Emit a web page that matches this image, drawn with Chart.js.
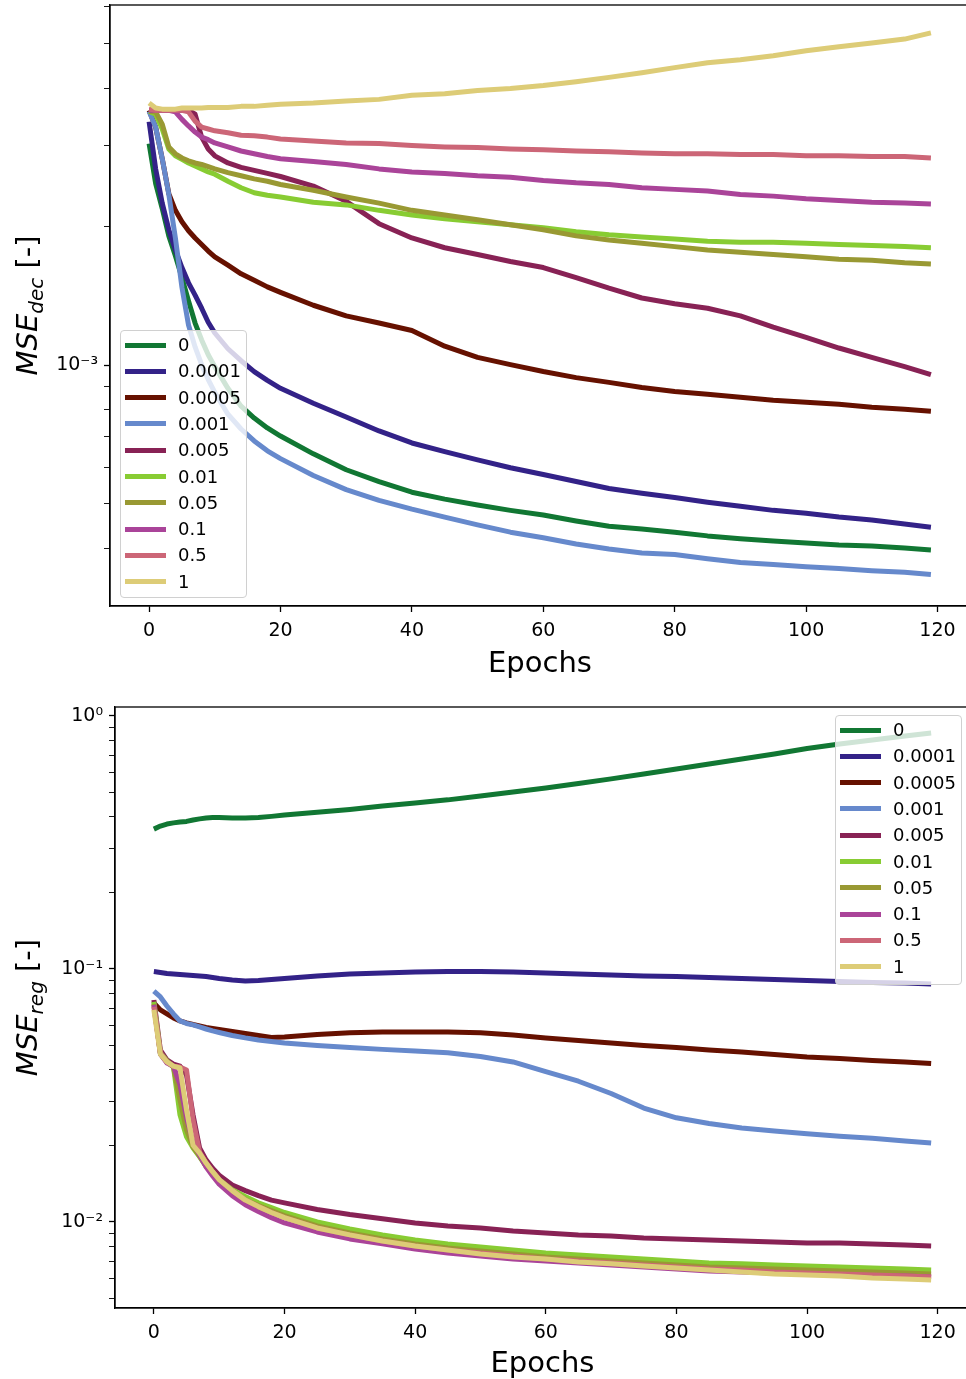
<!DOCTYPE html>
<html>
<head>
<meta charset="utf-8">
<script src="https://cdn.jsdelivr.net/npm/chart.js@4.4.1/dist/chart.umd.min.js"></script>
<style>
  html, body { margin: 0; padding: 0; background: #fff; width: 966px; height: 1379px; overflow: hidden; }
  .panel { position: absolute; left: 0; }
  canvas { display: block; }
  .legend { position: absolute; box-sizing: border-box; background: rgba(255,255,255,0.8);
            border: 1px solid #d0d0d0; border-radius: 4px; font-family: "DejaVu Sans"; font-size: 18px; color: #000; }
  .legend .sw { position: absolute; left: 4px; width: 41px; height: 5px; }
  .legend .lb { position: absolute; left: 57px; line-height: 20px; white-space: nowrap; }
</style>
</head>
<body>
<div class="panel" style="top:0"><canvas id="decChart" width="980" height="690"></canvas></div>
<div class="panel" style="top:690px"><canvas id="regChart" width="980" height="692"></canvas></div>
<div class="legend" id="decLegend" style="left:120px;top:330px;width:127px;height:268px"></div>
<div class="legend" id="regLegend" style="left:835px;top:715px;width:127px;height:270px"></div>
<script>
const epochs = [0,1,2,3,4,5,6,7,8,9,10,12,14,16,18,20,25,30,35,40,45,50,55,60,65,70,75,80,85,90,95,100,105,110,115,119];
const lambdaLabels = ['0','0.0001','0.0005','0.001','0.005','0.01','0.05','0.1','0.5','1'];
const xTicks = [0,20,40,60,80,100,120];

// MSE_dec (top panel)
const dec0   = [3.03e-3,2.48e-3,2.19e-3,1.91e-3,1.73e-3,1.55e-3,1.38e-3,1.235e-3,1.135e-3,1.054e-3,0.993e-3, 0.891e-3,0.815e-3,0.768e-3,0.731e-3,0.702e-3, 0.642e-3,0.593e-3,0.559e-3,0.530e-3,0.512e-3,0.497e-3,0.484e-3,0.473e-3,0.459e-3,0.447e-3,0.441e-3,0.434e-3,0.426e-3,0.420e-3,0.415e-3,0.411e-3,0.407e-3,0.405e-3,0.401e-3,0.397e-3];
const dec1e4 = [3.38e-3,2.67e-3,2.25e-3,1.97e-3,1.78e-3,1.63e-3,1.51e-3,1.42e-3,1.33e-3,1.24e-3,1.175e-3, 1.086e-3,1.023e-3,0.969e-3,0.927e-3,0.891e-3, 0.827e-3,0.772e-3,0.720e-3,0.678e-3,0.649e-3,0.623e-3,0.599e-3,0.579e-3,0.559e-3,0.540e-3,0.527e-3,0.516e-3,0.504e-3,0.494e-3,0.484e-3,0.477e-3,0.468e-3,0.461e-3,0.452e-3,0.445e-3];
const dec5e4 = [3.58e-3,3.29e-3,2.81e-3,2.36e-3,2.17e-3,2.05e-3,1.96e-3,1.89e-3,1.83e-3,1.77e-3,1.72e-3, 1.65e-3,1.58e-3,1.53e-3,1.48e-3,1.44e-3, 1.35e-3,1.28e-3,1.235e-3,1.19e-3,1.10e-3,1.04e-3,1.003e-3,0.969e-3,0.940e-3,0.918e-3,0.895e-3,0.877e-3,0.865e-3,0.852e-3,0.839e-3,0.831e-3,0.823e-3,0.811e-3,0.803e-3,0.795e-3];
const dec1e3 = [3.56e-3,3.29e-3,2.81e-3,2.35e-3,1.89e-3,1.476e-3,1.223e-3,1.096e-3,1.003e-3,0.931e-3,0.873e-3, 0.783e-3,0.727e-3,0.685e-3,0.652e-3,0.627e-3, 0.576e-3,0.537e-3,0.509e-3,0.487e-3,0.468e-3,0.450e-3,0.434e-3,0.422e-3,0.409e-3,0.399e-3,0.391e-3,0.388e-3,0.380e-3,0.373e-3,0.369e-3,0.365e-3,0.362e-3,0.358e-3,0.355e-3,0.351e-3];
const dec5e3 = [3.58e-3,3.58e-3,3.58e-3,3.58e-3,3.58e-3,3.58e-3,3.58e-3,3.51e-3,3.13e-3,2.95e-3,2.85e-3, 2.75e-3,2.69e-3,2.65e-3,2.61e-3,2.57e-3, 2.45e-3,2.27e-3,2.03e-3,1.89e-3,1.80e-3,1.74e-3,1.68e-3,1.63e-3,1.55e-3,1.47e-3,1.40e-3,1.36e-3,1.33e-3,1.28e-3,1.21e-3,1.15e-3,1.09e-3,1.04e-3,0.993e-3,0.954e-3];
const dec1e2 = [3.56e-3,3.51e-3,3.26e-3,2.95e-3,2.85e-3,2.80e-3,2.75e-3,2.71e-3,2.67e-3,2.63e-3,2.60e-3, 2.51e-3,2.43e-3,2.37e-3,2.34e-3,2.32e-3, 2.26e-3,2.23e-3,2.17e-3,2.12e-3,2.08e-3,2.05e-3,2.02e-3,1.99e-3,1.95e-3,1.92e-3,1.90e-3,1.88e-3,1.86e-3,1.85e-3,1.85e-3,1.84e-3,1.83e-3,1.82e-3,1.81e-3,1.80e-3];
const dec5e2 = [3.56e-3,3.55e-3,3.34e-3,2.98e-3,2.88e-3,2.82e-3,2.78e-3,2.75e-3,2.73e-3,2.70e-3,2.67e-3, 2.62e-3,2.58e-3,2.54e-3,2.51e-3,2.47e-3, 2.40e-3,2.32e-3,2.25e-3,2.17e-3,2.12e-3,2.07e-3,2.02e-3,1.97e-3,1.91e-3,1.87e-3,1.84e-3,1.81e-3,1.78e-3,1.76e-3,1.74e-3,1.72e-3,1.70e-3,1.69e-3,1.67e-3,1.66e-3];
const dec1e1 = [3.58e-3,3.58e-3,3.58e-3,3.58e-3,3.55e-3,3.42e-3,3.31e-3,3.21e-3,3.13e-3,3.09e-3,3.04e-3, 2.98e-3,2.92e-3,2.88e-3,2.84e-3,2.81e-3, 2.77e-3,2.73e-3,2.67e-3,2.63e-3,2.61e-3,2.58e-3,2.56e-3,2.52e-3,2.49e-3,2.47e-3,2.43e-3,2.41e-3,2.39e-3,2.35e-3,2.33e-3,2.30e-3,2.28e-3,2.26e-3,2.25e-3,2.24e-3];
const dec5e1 = [3.60e-3,3.58e-3,3.58e-3,3.58e-3,3.58e-3,3.58e-3,3.55e-3,3.39e-3,3.29e-3,3.26e-3,3.23e-3, 3.20e-3,3.16e-3,3.15e-3,3.13e-3,3.10e-3, 3.07e-3,3.04e-3,3.03e-3,3.00e-3,2.98e-3,2.97e-3,2.95e-3,2.94e-3,2.92e-3,2.91e-3,2.89e-3,2.88e-3,2.88e-3,2.87e-3,2.87e-3,2.85e-3,2.85e-3,2.84e-3,2.84e-3,2.82e-3];
const dec1   = [3.71e-3,3.62e-3,3.60e-3,3.60e-3,3.60e-3,3.62e-3,3.62e-3,3.62e-3,3.62e-3,3.63e-3,3.63e-3, 3.63e-3,3.65e-3,3.65e-3,3.67e-3,3.69e-3, 3.71e-3,3.75e-3,3.78e-3,3.86e-3,3.89e-3,3.95e-3,3.99e-3,4.05e-3,4.13e-3,4.22e-3,4.32e-3,4.43e-3,4.54e-3,4.61e-3,4.70e-3,4.82e-3,4.92e-3,5.01e-3,5.11e-3,5.27e-3];

// MSE_reg (bottom panel)
const reg0   = [0.357,0.367,0.374,0.378,0.381,0.383,0.388,0.392,0.395,0.397,0.397, 0.395,0.395,0.397,0.401,0.406, 0.416,0.427,0.441,0.453,0.466,0.483,0.501,0.519,0.541,0.564,0.590,0.617,0.646,0.676,0.708,0.744,0.775,0.804,0.834,0.857];
const reg1e4 = [0.0977,0.0969,0.0960,0.0955,0.0951,0.0947,0.0943,0.0938,0.0934,0.0926,0.0917, 0.0905,0.0897,0.0901,0.0909,0.0917, 0.0938,0.0955,0.0964,0.0973,0.0977,0.0977,0.0973,0.0964,0.0955,0.0947,0.0938,0.0934,0.0926,0.0917,0.0909,0.0901,0.0893,0.0884,0.0880,0.0873];
const reg5e4 = [0.0734,0.0689,0.0664,0.0640,0.0623,0.0612,0.0603,0.0595,0.0587,0.0582,0.0577, 0.0566,0.0556,0.0546,0.0536,0.0538, 0.0551,0.0559,0.0564,0.0564,0.0564,0.0559,0.0548,0.0534,0.0522,0.0510,0.0498,0.0489,0.0478,0.0470,0.0459,0.0449,0.0443,0.0435,0.0429,0.0423];
const reg1e3 = [0.0818,0.0775,0.0714,0.0664,0.0623,0.0609,0.0601,0.0590,0.0579,0.0569,0.0561, 0.0546,0.0534,0.0524,0.0517,0.0510, 0.0498,0.0489,0.0481,0.0474,0.0466,0.0451,0.0429,0.0393,0.0360,0.0322,0.0282,0.0258,0.0245,0.0235,0.0229,0.0223,0.0218,0.0214,0.0209,0.0205];
const reg5e3 = [0.0754,0.0478,0.0437,0.0421,0.0413,0.0381,0.0265,0.0196,0.0176,0.0163,0.0153, 0.0140,0.0133,0.0127,0.0122,0.0119, 0.0112,0.0107,0.0103,0.00991,0.00964,0.00947,0.00921,0.00905,0.00889,0.00881,0.00865,0.00857,0.00849,0.00841,0.00834,0.00826,0.00826,0.00819,0.00811,0.00804];
const reg1e2 = [0.0741,0.0466,0.0433,0.0410,0.0265,0.0217,0.0196,0.0181,0.0166,0.0156,0.0147, 0.0134,0.0126,0.0119,0.0114,0.0109, 0.0100,0.00938,0.00889,0.00849,0.00819,0.00796,0.00775,0.00754,0.00741,0.00727,0.00714,0.00701,0.00689,0.00683,0.00676,0.00670,0.00664,0.00658,0.00652,0.00646];
const reg5e2 = [0.0727,0.0461,0.0429,0.0410,0.0304,0.0231,0.0198,0.0182,0.0166,0.0155,0.0145, 0.0131,0.0122,0.0116,0.0111,0.0106, 0.00964,0.00905,0.00857,0.00819,0.00789,0.00768,0.00747,0.00727,0.00714,0.00701,0.00689,0.00676,0.00664,0.00658,0.00652,0.00646,0.00640,0.00634,0.00629,0.00623];
const reg1e1 = [0.0721,0.0461,0.0425,0.0413,0.0348,0.0258,0.0207,0.0184,0.0165,0.0152,0.0141, 0.0127,0.0117,0.0110,0.0104,0.00991, 0.00913,0.00857,0.00819,0.00782,0.00754,0.00734,0.00714,0.00701,0.00689,0.00676,0.00664,0.00652,0.00640,0.00634,0.00629,0.00623,0.00617,0.00612,0.00612,0.00606];
const reg5e1 = [0.0708,0.0466,0.0429,0.0413,0.0410,0.0399,0.0253,0.0189,0.0171,0.0158,0.0147, 0.0133,0.0122,0.0115,0.0109,0.0104, 0.00947,0.00889,0.00841,0.00804,0.00775,0.00754,0.00734,0.00714,0.00701,0.00689,0.00676,0.00664,0.00652,0.00646,0.00634,0.00629,0.00623,0.00617,0.00612,0.00606];
const reg1   = [0.0689,0.0461,0.0429,0.0413,0.0406,0.0277,0.0201,0.0187,0.0171,0.0158,0.0147, 0.0133,0.0122,0.0115,0.0109,0.0104, 0.00947,0.00889,0.00841,0.00804,0.00775,0.00747,0.00727,0.00714,0.00695,0.00683,0.00670,0.00658,0.00646,0.00634,0.00623,0.00617,0.00612,0.00601,0.00595,0.00590];

const decSeries = [dec0, dec1e4, dec5e4, dec1e3, dec5e3, dec1e2, dec5e2, dec1e1, dec5e1, dec1];
const regSeries = [reg0, reg1e4, reg5e4, reg1e3, reg5e3, reg1e2, reg5e2, reg1e1, reg5e1, reg1];
const lineColors = ['#117733','#332288','#661100','#6689CC','#882255','#88CC33','#999933','#AA4499','#CC6677','#DDCC77'];

Chart.defaults.font.family = '"DejaVu Sans"';
Chart.defaults.color = '#000';

const sup = {'-':'\u207B','0':'\u2070','1':'\u00B9','2':'\u00B2','3':'\u00B3','4':'\u2074','5':'\u2075','6':'\u2076','7':'\u2077','8':'\u2078','9':'\u2079'};
function powLabel(v) {
  const p = Math.log10(v), r = Math.round(p);
  if (Math.abs(p - r) > 1e-6) return '';
  return '10' + String(r).split('').map(c => sup[c]).join('');
}
function logTicks(min, max) {
  const out = [];
  for (let e = Math.floor(Math.log10(min)); e <= Math.ceil(Math.log10(max)); e++)
    for (let m = 1; m < 10; m++) {
      const v = m * Math.pow(10, e);
      if (v >= min && v <= max) out.push({value: v, major: m === 1});
    }
  return out;
}

// box round the plot + y title with subscript
const framePlugin = {
  id: 'frame',
  afterDraw(chart, args, o) {
    const {ctx, chartArea: a} = chart;
    ctx.save();
    ctx.strokeStyle = '#000';
    ctx.lineWidth = 1.3;
    ctx.strokeRect(a.left, a.top, a.right - a.left, a.bottom - a.top);
    const tail = ' [-]';
    ctx.font = 'italic 29px "DejaVu Sans"'; const w1 = ctx.measureText(o.main).width;
    ctx.font = 'italic 20px "DejaVu Sans"'; const w2 = ctx.measureText(o.sub).width;
    ctx.font = '29px "DejaVu Sans"'; const w3 = ctx.measureText(tail).width;
    ctx.translate(o.x, (a.top + a.bottom) / 2);
    ctx.rotate(-Math.PI / 2);
    ctx.fillStyle = '#000';
    ctx.textBaseline = 'alphabetic';
    let x = -(w1 + w2 + w3) / 2;
    ctx.font = 'italic 29px "DejaVu Sans"'; ctx.fillText(o.main, x, 0); x += w1;
    ctx.font = 'italic 20px "DejaVu Sans"'; ctx.fillText(o.sub, x, 6); x += w2;
    ctx.font = '29px "DejaVu Sans"'; ctx.fillText(tail, x, 0);
    ctx.restore();
  }
};

function makeChart(id, series, yMin, yMax, box, sub) {
  const datasets = series.map((vals, i) => ({
    label: lambdaLabels[i],
    data: epochs.map((e, k) => ({x: e, y: vals[k]})),
    borderColor: lineColors[i],
    borderWidth: 5,
    pointRadius: 0,
    fill: false,
    tension: 0,
    borderJoinStyle: 'round',
    order: series.length - 1 - i
  }));
  return new Chart(document.getElementById(id), {
    type: 'line',
    data: {datasets},
    plugins: [framePlugin],
    options: {
      responsive: false,
      animation: false,
      devicePixelRatio: 1,
      layout: {padding: {left: 0, top: box.top, right: 10, bottom: 0}},
      plugins: {
        legend: {display: false},
        tooltip: {enabled: false},
        frame: {main: 'MSE', sub: sub, x: 37}
      },
      scales: {
        x: {
          type: 'linear', min: -5.95, max: 124.95,
          afterBuildTicks: s => { s.ticks = xTicks.map(v => ({value: v})); },
          afterFit: s => { s.height = box.xh; s.paddingLeft = 0; s.paddingRight = 0; },
          ticks: {font: {size: 19}, padding: 8, maxRotation: 0},
          grid: {drawOnChartArea: false, drawTicks: true, tickLength: 6, tickWidth: 1.3, tickColor: '#000'},
          border: {display: true, color: '#000', width: 1.3},
          title: {display: true, text: 'Epochs', font: {size: 29}, padding: {top: 0, bottom: box.tb}}
        },
        y: {
          type: 'logarithmic', min: yMin, max: yMax,
          afterBuildTicks: s => { s.ticks = logTicks(yMin, yMax); },
          afterFit: s => { s.width = box.yw; s.paddingTop = 0; s.paddingBottom = 0; },
          ticks: {font: {size: 19}, padding: 6, autoSkip: false, callback: v => powLabel(v)},
          grid: {drawOnChartArea: false, drawTicks: true, tickLength: 6,
                 tickWidth: c => (c.tick && c.tick.major ? 1.3 : 0.9), tickColor: '#000'},
          border: {display: true, color: '#000', width: 1.3}
        }
      }
    }
  });
}

makeChart('decChart', decSeries, 3.09e-4, 6.06e-3, {top: 5, xh: 84, yw: 110, tb: 8}, 'dec');
makeChart('regChart', regSeries, 4.57e-3, 1.085, {top: 17, xh: 74, yw: 115, tb: 0}, 'reg');

function buildLegend(id) {
  const el = document.getElementById(id);
  lambdaLabels.forEach((lab, i) => {
    const cy = 14 + 26.3 * i;
    const sw = document.createElement('div');
    sw.className = 'sw';
    sw.style.top = (cy - 2.5) + 'px';
    sw.style.background = lineColors[i];
    const lb = document.createElement('div');
    lb.className = 'lb';
    lb.style.top = (cy - 10) + 'px';
    lb.textContent = lab;
    el.appendChild(sw);
    el.appendChild(lb);
  });
}
buildLegend('decLegend');
buildLegend('regLegend');
</script>
</body>
</html>
